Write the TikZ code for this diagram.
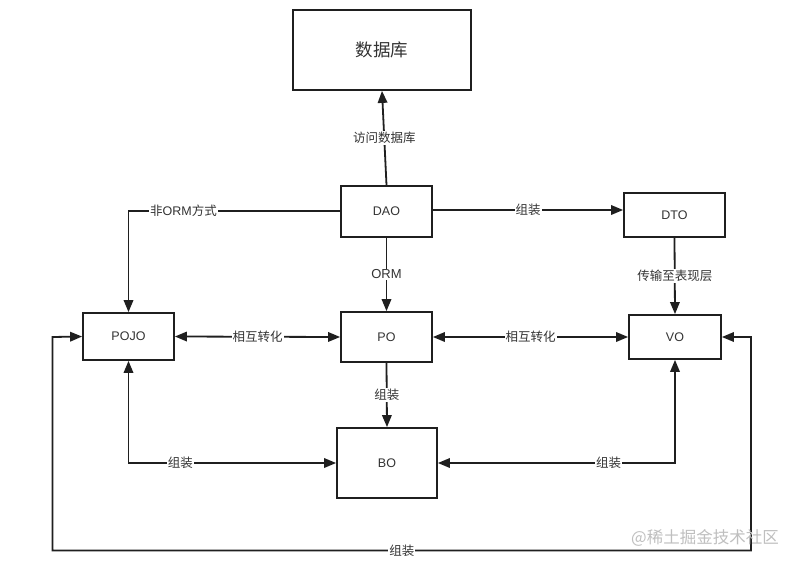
\documentclass[tikz,border=0pt]{standalone}
\usepackage{fontspec}
\setmainfont{Liberation Sans}
\newfontfamily\cjk{Noto Sans CJK SC}
\usetikzlibrary{arrows.meta}
\begin{document}
\begin{tikzpicture}[x=1pt,y=-1pt,
  box/.style={draw=black!88, line width=1.8pt, inner sep=0pt, font=\fontsize{12.5}{14}\selectfont, text=black!80},
  conn/.style={draw=black!88, line width=1.8pt, -{Triangle[length=12pt,width=9.5pt]}},
  conn2/.style={draw=black!88, line width=1.8pt, {Triangle[length=12pt,width=9.5pt]}-{Triangle[length=12pt,width=9.5pt]}},
  lbl/.style={fill=white, inner sep=1pt, text=black!80, font=\fontsize{12.5}{14}\selectfont\cjk}]
\useasboundingbox[fill=white] (0,0) rectangle (796,565);
% nodes
\node[box, minimum width=178pt, minimum height=80pt, font=\fontsize{17.5}{20}\selectfont\cjk] (DB) at (382,50) {数据库};
\node[box, minimum width=91pt, minimum height=51pt] (DAO) at (386.5,211.5) {DAO};
\node[box, minimum width=101pt, minimum height=44pt] (DTO) at (674.5,215) {DTO};
\node[box, minimum width=91pt, minimum height=47pt] (POJO) at (128.5,336.5) {POJO};
\node[box, minimum width=91pt, minimum height=50pt] (PO) at (386.5,337) {PO};
\node[box, minimum width=92pt, minimum height=44pt] (VO) at (675,337) {VO};
\node[box, minimum width=100pt, minimum height=70pt] (BO) at (387,463) {BO};
\coordinate (L1) at (52.5,337);
\coordinate (L2) at (52.5,550.5);
\coordinate (R2) at (751,550.5);
\coordinate (R1) at (751,337);
% connectors
\draw[conn] (DAO.north) -- node[lbl] {访问数据库} (DB.south);
\draw[conn] ([yshift=0.5pt]DAO.west) -| node[lbl, pos=0.37] {\cjk 非\rmfamily ORM\cjk 方式} (POJO.north);
\draw[conn] ([yshift=1.5pt]DAO.east) -- node[lbl] {组装} ([yshift=1.5pt]DAO.east -| DTO.west);
\draw[conn] (DAO.south) -- node[lbl, font=\fontsize{13}{15}\selectfont] {ORM} (PO.north);
\draw[conn] (DTO.south) -- node[lbl] {传输至表现层} (VO.north);
\draw[conn2] (POJO.east) -- node[lbl] {相互转化} (PO.west);
\draw[conn2] (PO.east) -- node[lbl] {相互转化} (VO.west);
\draw[conn] (PO.south) -- node[lbl] {组装} (BO.north);
\draw[conn2] (POJO.south) |- node[lbl, pos=0.625] {组装} (BO.west);
\draw[conn2] (VO.south) |- node[lbl, pos=0.64] {组装} (BO.east);
\draw[conn2] (POJO.west) -- (L1) -- (L2) -- node[lbl] {组装} (R2) -- (R1) -- (VO.east);
% watermark
\node[text=black!25, font=\fontsize{16.5}{18}\selectfont\cjk, anchor=east, inner sep=0pt] (wm) at (779,538) {@稀土掘金技术社区};
\end{tikzpicture}
\end{document}
